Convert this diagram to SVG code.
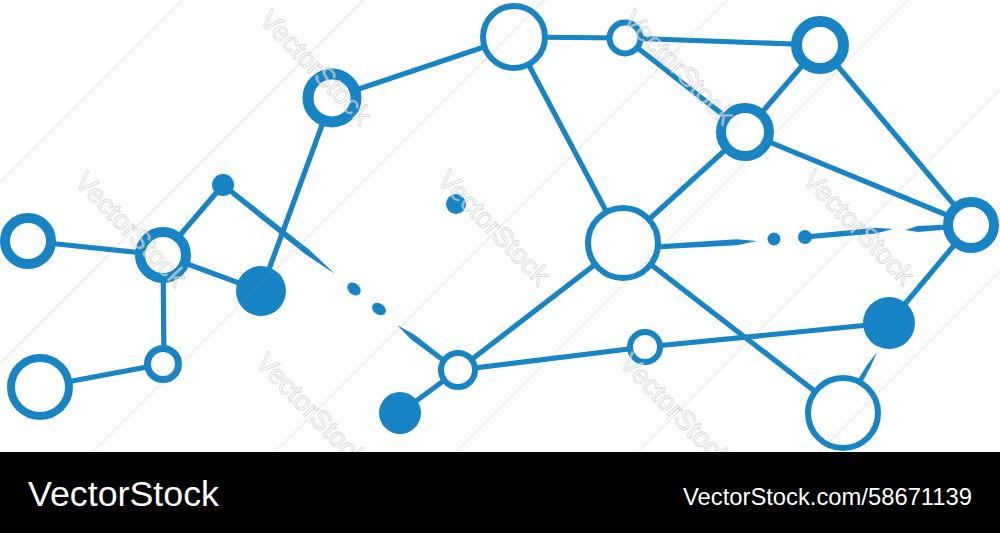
<svg xmlns="http://www.w3.org/2000/svg" width="1000" height="533" viewBox="0 0 1000 533">
<style>
.ln{stroke:#1784c6;stroke-width:5.2;stroke-linecap:round;fill:none}
.ring{fill:#fff;stroke:#1784c6}
.dot{fill:#1784c6}
.grid{stroke:#9a9a9a;stroke-opacity:.3;stroke-width:1}
.wm{font-family:"Liberation Sans",Arial,sans-serif;font-size:27.5px;fill:#fff;fill-opacity:.55;stroke:#999;stroke-opacity:.4;stroke-width:.9}
.bar{font-family:"Liberation Sans",Arial,sans-serif;fill:#fff}
</style>
<rect width="1000" height="533" fill="#fff"/>
<g id="connectors">
<line class="ln" x1="28" y1="241" x2="163" y2="255"/>
<line class="ln" x1="163" y1="255" x2="223" y2="185"/>
<line class="ln" x1="163" y1="255" x2="261" y2="291"/>
<line class="ln" x1="163" y1="255" x2="164" y2="364"/>
<line class="ln" x1="163" y1="364" x2="40" y2="387"/>
<line class="ln" x1="332" y1="98" x2="261" y2="291"/>
<line class="ln" x1="332" y1="98" x2="514" y2="37"/>
<line class="ln" x1="514" y1="37" x2="625" y2="38"/>
<line class="ln" x1="514" y1="37" x2="623" y2="243"/>
<line class="ln" x1="625" y1="38" x2="820" y2="45"/>
<line class="ln" x1="625" y1="38" x2="745" y2="132"/>
<line class="ln" x1="820" y1="45" x2="745" y2="132"/>
<line class="ln" x1="820" y1="45" x2="971" y2="225"/>
<line class="ln" x1="745" y1="132" x2="971" y2="225"/>
<line class="ln" x1="745" y1="132" x2="623" y2="243"/>
<line class="ln" x1="623" y1="243" x2="458" y2="370"/>
<line class="ln" x1="623" y1="243" x2="843" y2="413"/>
<line class="ln" x1="458" y1="370" x2="645" y2="347"/>
<line class="ln" x1="645" y1="347" x2="889" y2="323"/>
<line class="ln" x1="971" y1="225" x2="889" y2="323"/>
<line class="ln" x1="458" y1="370" x2="400" y2="413"/>
<polygon class="dot" points="221.4,187 305.1,254.1 335,274 308.9,249.4 224.6,183"/>
<ellipse class="dot" cx="354" cy="289" rx="7.5" ry="5.5" transform="rotate(40 354 289)"/>
<ellipse class="dot" cx="379" cy="309" rx="7.5" ry="5.5" transform="rotate(35 379 309)"/>
<polygon class="dot" points="397,325 411.3,339.6 441.5,362 444.5,358 414.9,334.9"/>
<polygon class="dot" points="655.1,249.5 736.8,245.2 757,241 736.4,239.2 654.9,244.5"/>
<circle class="dot" cx="774" cy="239" r="6.5"/>
<circle class="dot" cx="805" cy="237" r="7"/>
<polygon class="dot" points="805.2,239.5 875.7,233.4 893,229 875.1,227.8 804.8,234.5"/>
<polygon class="dot" points="905,230 918.1,232.1 948.2,229.5 947.8,224.5 917.7,226.1"/>
<polygon class="dot" points="877,352 866.8,365.5 857.8,379.7 862.2,382.3 870.2,367.5"/>
</g>
<g id="node-H"><circle class="ring" cx="28" cy="241" r="23" stroke-width="10"/></g>
<g id="node-I"><circle class="ring" cx="163" cy="255" r="23" stroke-width="10"/></g>
<g id="node-dot1"><circle class="dot" cx="223" cy="185" r="11"/></g>
<g id="node-B"><circle class="dot" cx="261" cy="291" r="25"/></g>
<g id="node-J"><circle class="ring" cx="163" cy="364" r="15.5" stroke-width="7"/></g>
<g id="node-K"><circle class="ring" cx="40" cy="387" r="29" stroke-width="8"/></g>
<g id="node-A"><circle class="ring" cx="332" cy="98" r="24" stroke-width="11"/></g>
<g id="node-dot2"><circle class="dot" cx="456" cy="204" r="10"/></g>
<g id="node-T"><circle class="ring" cx="514" cy="37" r="31" stroke-width="6"/></g>
<g id="node-U"><circle class="ring" cx="625" cy="38" r="15.5" stroke-width="6"/></g>
<g id="node-V"><circle class="ring" cx="820" cy="45" r="23.5" stroke-width="11"/></g>
<g id="node-W"><circle class="ring" cx="745" cy="132" r="24" stroke-width="10"/></g>
<g id="node-X"><circle class="ring" cx="623" cy="243" r="35" stroke-width="6"/></g>
<g id="node-Y"><circle class="ring" cx="971" cy="225" r="23" stroke-width="10"/></g>
<g id="node-C"><circle class="dot" cx="889" cy="323" r="26"/></g>
<g id="node-D"><circle class="ring" cx="645" cy="347" r="15" stroke-width="6"/></g>
<g id="node-E"><circle class="ring" cx="843" cy="413" r="35" stroke-width="6"/></g>
<g id="node-F"><circle class="ring" cx="458" cy="370" r="17" stroke-width="6"/></g>
<g id="node-G"><circle class="dot" cx="400" cy="413" r="21"/></g>
<g id="watermark">
<line class="grid" x1="0" y1="182" x2="182" y2="0"/>
<line class="grid" x1="0" y1="363" x2="363" y2="0"/>
<line class="grid" x1="92" y1="453" x2="545" y2="0"/>
<line class="grid" x1="274" y1="453" x2="727" y2="0"/>
<line class="grid" x1="455" y1="453" x2="908" y2="0"/>
<line class="grid" x1="637" y1="453" x2="1000" y2="90"/>
<line class="grid" x1="818" y1="453" x2="1000" y2="271"/>
<text class="wm" transform="translate(258,21) rotate(46)">VectorStock</text>
<text class="wm" transform="translate(621,21) rotate(46)">VectorStock</text>
<text class="wm" transform="translate(73,183) rotate(46)">VectorStock</text>
<text class="wm" transform="translate(436,181) rotate(46)">VectorStock</text>
<text class="wm" transform="translate(801,181) rotate(46)">VectorStock</text>
<text class="wm" transform="translate(254,364) rotate(46)">VectorStock</text>
<text class="wm" transform="translate(618,364) rotate(46)">VectorStock</text>
</g>
<g id="footer">
<rect x="0" y="452" width="1000" height="81" fill="#000"/>
<text class="bar" x="28" y="506" font-size="35.5" textLength="191" lengthAdjust="spacingAndGlyphs">VectorStock</text>
<text class="bar" x="683" y="505" font-size="24" textLength="289" lengthAdjust="spacingAndGlyphs">VectorStock.com/58671139</text>
</g>
</svg>
